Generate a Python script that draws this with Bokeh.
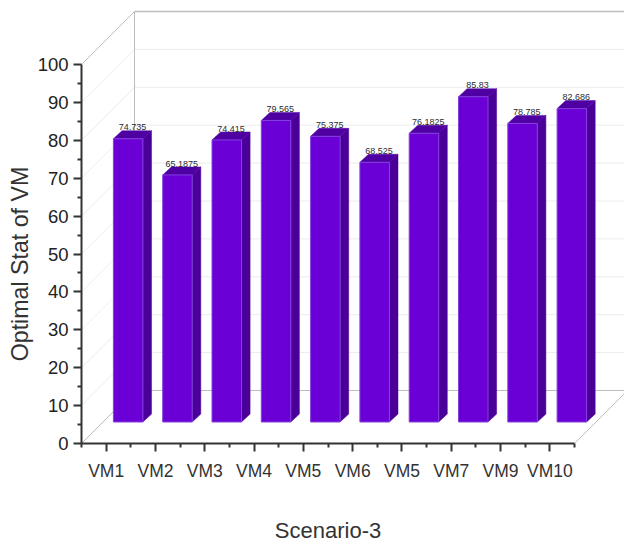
import math

from bokeh.core.properties import value
from bokeh.embed import file_html
from bokeh.models import ColumnDataSource, FixedTicker
from bokeh.plotting import figure
from bokeh.resources import INLINE

# Chart data
categories = ["VM1", "VM2", "VM3", "VM4", "VM5", "VM6", "VM5", "VM7", "VM9", "VM10"]
optimal_stat = [74.735, 65.1875, 74.415, 79.565, 75.375, 68.525, 76.1825, 85.83, 78.785, 82.686]
value_labels = ["74.735", "65.1875", "74.415", "79.565", "75.375", "68.525", "76.1825", "85.83", "78.785", "82.686"]
y_ticks = [0, 10, 20, 30, 40, 50, 60, 70, 80, 90, 100]

# Scale: pixels per unit on both axes, used to express the oblique 3D projection
PX_X = 49.3
PX_Y = 3.79
WALL_DX = 53 / PX_X
WALL_DY = 53 / PX_Y
BAR_DX = 22 / PX_X      # how far the bars sit back from the front edge of the floor
BAR_DY = 21.5 / PX_Y
SIDE_DX = 8.6 / PX_X    # depth of each bar
SIDE_DY = 8 / PX_Y
BAR_W = 29.5 / PX_X

W, H = 624, 544
X0, X1 = 0.5, 10.5
MARGIN_LEFT, AXIS_Y = 81, 443   # canvas position of the axis origin
X_MIN = X0 - MARGIN_LEFT / PX_X
X_MAX = X_MIN + W / PX_X
Y_MAX = AXIS_Y / PX_Y
Y_MIN = Y_MAX - H / PX_Y

# The frame fills the canvas so the axis titles can be centred on the axis spans
p = figure(
    width=W, height=H,
    frame_width=W, frame_height=H,
    x_range=(X_MIN, X_MAX),
    y_range=(Y_MIN, Y_MAX),
    output_backend="svg", toolbar_location=None,
    min_border=0,
    background_fill_color="white", border_fill_color="white",
)
p.outline_line_color = None
p.grid.visible = False

# Gridlines on the back wall and the left wall
grid_color = "#ececec"
for t in y_ticks[1:-1]:
    p.line([X0 + WALL_DX, X_MAX], [t + WALL_DY] * 2, line_color=grid_color, line_width=1)
    p.line([X0, X0 + WALL_DX], [t, t + WALL_DY], line_color=grid_color, line_width=1)

# Wall outlines
edge_color = "#bdbdbd"
p.line([X0 + WALL_DX, X_MAX], [WALL_DY, WALL_DY], line_color=edge_color, line_width=1)
p.line([X0 + WALL_DX, X_MAX], [100 + WALL_DY] * 2, line_color=edge_color, line_width=1.5)
p.line([X0 + WALL_DX, X0 + WALL_DX], [WALL_DY, 100 + WALL_DY], line_color=edge_color, line_width=1)
p.line([X0, X0 + WALL_DX], [0, WALL_DY], line_color=edge_color, line_width=1)
p.line([X0, X0 + WALL_DX], [100, 100 + WALL_DY], line_color=edge_color, line_width=1)
p.line([X1, X1 + WALL_DX], [0, WALL_DY], line_color=edge_color, line_width=1)

# Bars: front face, side face and top face
centres = [i + 1 + BAR_DX for i in range(len(optimal_stat))]
lefts = [c - BAR_W / 2 for c in centres]
rights = [c + BAR_W / 2 for c in centres]
bottoms = [BAR_DY] * len(optimal_stat)
tops = [v + BAR_DY for v in optimal_stat]

p.patches(
    [[r, r + SIDE_DX, r + SIDE_DX, r] for r in rights],
    [[b, b + SIDE_DY, t + SIDE_DY, t] for b, t in zip(bottoms, tops)],
    fill_color="#4a0098", line_color="#4a0098", line_width=0.5,
)
p.patches(
    [[l, l + SIDE_DX, r + SIDE_DX, r] for l, r in zip(lefts, rights)],
    [[t, t + SIDE_DY, t + SIDE_DY, t] for t in tops],
    fill_color="#4e00a2", line_color="#4e00a2", line_width=0.5,
)
p.quad(left=lefts, right=rights, bottom=bottoms, top=tops,
       fill_color="#6a00d6", line_color="#8440dc", line_width=1)

# Value labels sit just above the back edge of each bar's top face
label_src = ColumnDataSource(dict(
    x=[c + SIDE_DX / 2 for c in centres],
    y=[t + SIDE_DY + 0.9 for t in tops],
    text=value_labels,
))
p.text(x="x", y="y", text="text", source=label_src,
       text_font=value("Liberation Sans"), text_font_size="9px",
       text_color="#2a2a33", text_align="center", text_baseline="middle")

# Axes, pinned inside the frame at the chart's origin
ax = p.yaxis[0]
ax.fixed_location = X0
ax.ticker = FixedTicker(ticks=y_ticks, minor_ticks=[t + 5 for t in y_ticks[:-1]])
ax.bounds = (0, 100)
ax.major_label_text_font = "Liberation Sans"
ax.major_label_text_font_size = "18.5px"
ax.major_label_text_color = "#222222"
ax.major_label_standoff = 5

xa = p.xaxis[0]
xa.fixed_location = 0
positions = list(range(1, len(categories) + 1))
xa.ticker = FixedTicker(ticks=positions, minor_ticks=[x - 0.5 for x in positions] + [X1])
xa.bounds = (X0, X1)
xa.major_label_overrides = {x: c for x, c in zip(positions, categories)}
xa.major_label_text_font = "Liberation Sans"
xa.major_label_text_font_size = "17.5px"
xa.major_label_text_color = "#333333"
xa.major_label_standoff = 9

for a in (ax, xa):
    a.axis_line_color = "#333333"
    a.axis_line_width = 2
    a.major_tick_line_color = "#333333"
    a.major_tick_line_width = 2
    a.minor_tick_line_color = "#333333"
    a.minor_tick_line_width = 2
    a.major_tick_in = 0
    a.minor_tick_in = 0
    a.major_tick_out = 8
    a.minor_tick_out = 4

# Axis titles
p.text(x=[X0 - 62 / PX_X], y=[50 + (443 - 263.5 - 50 * PX_Y) / PX_Y], text=["Optimal Stat of VM"],
       angle=math.pi / 2, text_align="center", text_baseline="middle",
       text_font=value("Liberation Sans"), text_font_size="23.2px", text_color="#333333")
p.text(x=[(X0 + X1) / 2], y=[(AXIS_Y - 530) / PX_Y], text=["Scenario-3"],
       text_align="center", text_baseline="middle",
       text_font=value("Liberation Sans"), text_font_size="22px", text_color="#333333")

open("out.html", "w").write(file_html(p, INLINE))
